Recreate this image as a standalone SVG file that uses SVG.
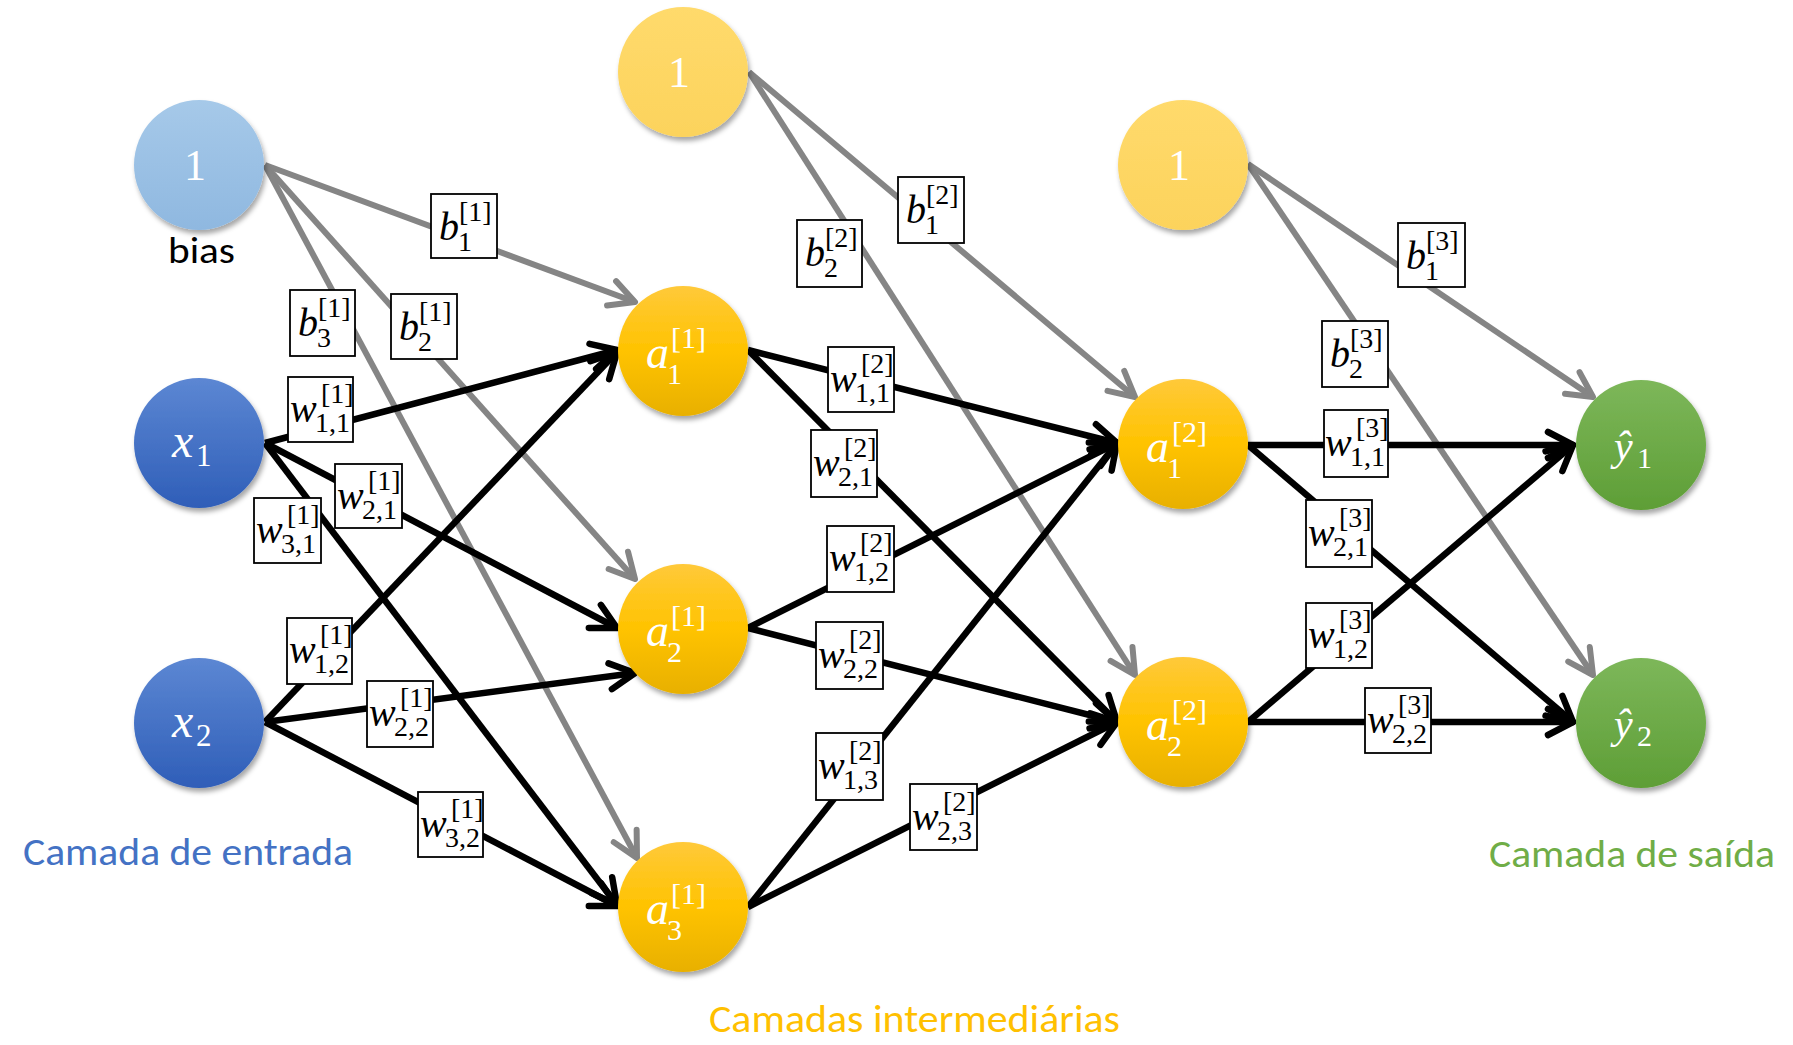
<svg xmlns="http://www.w3.org/2000/svg" width="1793" height="1045" viewBox="0 0 1793 1045">
  <style>
    .wire-k { stroke: #000; stroke-width: 6.5; fill: none; marker-end: url(#arrowK); }
    .wire-g { stroke: #858585; stroke-width: 6; fill: none; marker-end: url(#arrowG); }
    .box { fill: #fff; stroke: #000; stroke-width: 1.8; }
    .lbl { font-family: "Liberation Serif", "DejaVu Serif", serif; fill: #000; }
    .v { font-style: italic; font-size: 40px; }
    .s { font-size: 28px; }
    .nl { font-family: "Liberation Serif", "DejaVu Serif", serif; fill: #fff; }
    .nv { font-style: italic; }
    .cap { font-family: Carlito, Lato, "Liberation Sans", sans-serif; }
  </style>
  <defs>
    <marker id="arrowK" markerUnits="userSpaceOnUse" orient="auto" overflow="visible" markerWidth="1" markerHeight="1" refX="0" refY="0">
      <path d="M-25,-13 L0,0 L-25,13" fill="none" stroke="#000" stroke-width="6.5" stroke-linecap="round" stroke-linejoin="round"/>
    </marker>
    <marker id="arrowG" markerUnits="userSpaceOnUse" orient="auto" overflow="visible" markerWidth="1" markerHeight="1" refX="0" refY="0">
      <path d="M-25,-13 L0,0 L-25,13" fill="none" stroke="#858585" stroke-width="6" stroke-linecap="round" stroke-linejoin="round"/>
    </marker>
    <linearGradient id="gBias" x1="0" y1="0" x2="0" y2="1">
      <stop offset="0" stop-color="#A6C9E9"/><stop offset="1" stop-color="#8FB8E0"/>
    </linearGradient>
    <linearGradient id="gX" x1="0" y1="0" x2="0" y2="1">
      <stop offset="0" stop-color="#5C87D3"/><stop offset="1" stop-color="#2F5EB8"/>
    </linearGradient>
    <linearGradient id="gOne" x1="0" y1="0" x2="0" y2="1">
      <stop offset="0" stop-color="#FFDA6C"/><stop offset="1" stop-color="#FCD35C"/>
    </linearGradient>
    <linearGradient id="gA" x1="0" y1="0" x2="0" y2="1">
      <stop offset="0" stop-color="#FFC93A"/><stop offset="0.5" stop-color="#FFC300"/><stop offset="1" stop-color="#E8B000"/>
    </linearGradient>
    <linearGradient id="gY" x1="0" y1="0" x2="0" y2="1">
      <stop offset="0" stop-color="#7DB75A"/><stop offset="1" stop-color="#5E9E36"/>
    </linearGradient>
    <filter id="shadow" x="-30%" y="-30%" width="160%" height="160%">
      <feDropShadow dx="2" dy="4" stdDeviation="2.5" flood-color="#000" flood-opacity="0.35"/>
    </filter>
  </defs>

  <!-- connectors -->
  <g id="connectors">
    <!-- bias weights (grey) -->
    <path class="wire-g" d="M265,165 L635,302"/>
    <path class="wire-g" d="M265,165 L635,579"/>
    <path class="wire-g" d="M265,165 L637,858"/>
    <path class="wire-g" d="M749,72 L1135,397"/>
    <path class="wire-g" d="M749,72 L1135,675"/>
    <path class="wire-g" d="M1248,164 L1593,397"/>
    <path class="wire-g" d="M1248,164 L1593,675"/>
    <!-- input to first hidden layer -->
    <path class="wire-k" d="M265,443 L617,350"/>
    <path class="wire-k" d="M265,443 L617,628"/>
    <path class="wire-k" d="M265,443 L617,905"/>
    <path class="wire-k" d="M265,722 L617,352"/>
    <path class="wire-k" d="M265,722 L635,673"/>
    <path class="wire-k" d="M265,722 L617,906"/>
    <!-- first to second hidden layer -->
    <path class="wire-k" d="M748,350 L1117,443"/>
    <path class="wire-k" d="M748,350 L1117,722"/>
    <path class="wire-k" d="M748,628 L1117,443"/>
    <path class="wire-k" d="M748,628 L1117,722"/>
    <path class="wire-k" d="M748,907 L1117,443"/>
    <path class="wire-k" d="M748,907 L1117,722"/>
    <!-- second hidden layer to output -->
    <path class="wire-k" d="M1248,445 L1573,445"/>
    <path class="wire-k" d="M1248,445 L1573,722"/>
    <path class="wire-k" d="M1248,722 L1573,445"/>
    <path class="wire-k" d="M1248,722 L1573,722"/>
  </g>

  <!-- weight and bias labels -->
  <g id="labels">
    <g id="lb-b11"><rect class="box" x="431" y="194" width="66" height="64"/><text class="lbl"><tspan class="v" x="439" y="240">b</tspan><tspan class="s" x="459" y="221">[1]</tspan><tspan class="s" x="458" y="251">1</tspan></text></g>
    <g id="lb-b21"><rect class="box" x="391" y="294" width="66" height="65"/><text class="lbl"><tspan class="v" x="399" y="340">b</tspan><tspan class="s" x="419" y="321">[1]</tspan><tspan class="s" x="418" y="351">2</tspan></text></g>
    <g id="lb-b31"><rect class="box" x="290" y="290" width="65" height="66"/><text class="lbl"><tspan class="v" x="298" y="336">b</tspan><tspan class="s" x="318" y="317">[1]</tspan><tspan class="s" x="317" y="347">3</tspan></text></g>
    <g id="lb-w111"><rect class="box" x="288" y="377" width="65" height="65"/><text class="lbl"><tspan class="v" x="290" y="422">w</tspan><tspan class="s" x="321" y="403">[1]</tspan><tspan class="s" x="315" y="432">1,1</tspan></text></g>
    <g id="lb-w211"><rect class="box" x="335" y="464" width="67" height="64"/><text class="lbl"><tspan class="v" x="337" y="509">w</tspan><tspan class="s" x="368" y="490">[1]</tspan><tspan class="s" x="362" y="519">2,1</tspan></text></g>
    <g id="lb-w311"><rect class="box" x="254" y="498" width="67" height="65"/><text class="lbl"><tspan class="v" x="256" y="543">w</tspan><tspan class="s" x="287" y="524">[1]</tspan><tspan class="s" x="281" y="553">3,1</tspan></text></g>
    <g id="lb-w121"><rect class="box" x="287" y="618" width="65" height="66"/><text class="lbl"><tspan class="v" x="289" y="663">w</tspan><tspan class="s" x="320" y="644">[1]</tspan><tspan class="s" x="314" y="673">1,2</tspan></text></g>
    <g id="lb-w221"><rect class="box" x="367" y="681" width="66" height="66"/><text class="lbl"><tspan class="v" x="369" y="726">w</tspan><tspan class="s" x="400" y="707">[1]</tspan><tspan class="s" x="394" y="736">2,2</tspan></text></g>
    <g id="lb-w321"><rect class="box" x="418" y="792" width="65" height="65"/><text class="lbl"><tspan class="v" x="420" y="837">w</tspan><tspan class="s" x="451" y="818">[1]</tspan><tspan class="s" x="445" y="847">3,2</tspan></text></g>

    <g id="lb-b12"><rect class="box" x="898" y="177" width="66" height="66"/><text class="lbl"><tspan class="v" x="906" y="223">b</tspan><tspan class="s" x="926" y="204">[2]</tspan><tspan class="s" x="925" y="234">1</tspan></text></g>
    <g id="lb-b22"><rect class="box" x="797" y="220" width="65" height="67"/><text class="lbl"><tspan class="v" x="805" y="266">b</tspan><tspan class="s" x="825" y="247">[2]</tspan><tspan class="s" x="824" y="277">2</tspan></text></g>
    <g id="lb-w112"><rect class="box" x="828" y="347" width="66" height="65"/><text class="lbl"><tspan class="v" x="830" y="392">w</tspan><tspan class="s" x="861" y="373">[2]</tspan><tspan class="s" x="855" y="402">1,1</tspan></text></g>
    <g id="lb-w212"><rect class="box" x="811" y="430" width="66" height="67"/><text class="lbl"><tspan class="v" x="813" y="476">w</tspan><tspan class="s" x="844" y="457">[2]</tspan><tspan class="s" x="838" y="486">2,1</tspan></text></g>
    <g id="lb-w122"><rect class="box" x="827" y="526" width="67" height="66"/><text class="lbl"><tspan class="v" x="829" y="571">w</tspan><tspan class="s" x="860" y="552">[2]</tspan><tspan class="s" x="854" y="581">1,2</tspan></text></g>
    <g id="lb-w222"><rect class="box" x="816" y="622" width="67" height="67"/><text class="lbl"><tspan class="v" x="818" y="668">w</tspan><tspan class="s" x="849" y="649">[2]</tspan><tspan class="s" x="843" y="678">2,2</tspan></text></g>
    <g id="lb-w132"><rect class="box" x="816" y="733" width="67" height="67"/><text class="lbl"><tspan class="v" x="818" y="779">w</tspan><tspan class="s" x="849" y="760">[2]</tspan><tspan class="s" x="843" y="789">1,3</tspan></text></g>
    <g id="lb-w232"><rect class="box" x="910" y="784" width="67" height="66"/><text class="lbl"><tspan class="v" x="912" y="830">w</tspan><tspan class="s" x="943" y="811">[2]</tspan><tspan class="s" x="937" y="840">2,3</tspan></text></g>

    <g id="lb-b13"><rect class="box" x="1398" y="223" width="67" height="64"/><text class="lbl"><tspan class="v" x="1406" y="269">b</tspan><tspan class="s" x="1426" y="250">[3]</tspan><tspan class="s" x="1425" y="280">1</tspan></text></g>
    <g id="lb-b23"><rect class="box" x="1322" y="321" width="66" height="66"/><text class="lbl"><tspan class="v" x="1330" y="367">b</tspan><tspan class="s" x="1350" y="348">[3]</tspan><tspan class="s" x="1349" y="378">2</tspan></text></g>
    <g id="lb-w113"><rect class="box" x="1324" y="410" width="64" height="67"/><text class="lbl"><tspan class="v" x="1325" y="456">w</tspan><tspan class="s" x="1356" y="437">[3]</tspan><tspan class="s" x="1350" y="466">1,1</tspan></text></g>
    <g id="lb-w213"><rect class="box" x="1306" y="500" width="66" height="67"/><text class="lbl"><tspan class="v" x="1308" y="546">w</tspan><tspan class="s" x="1339" y="527">[3]</tspan><tspan class="s" x="1333" y="556">2,1</tspan></text></g>
    <g id="lb-w123"><rect class="box" x="1306" y="603" width="66" height="65"/><text class="lbl"><tspan class="v" x="1308" y="648">w</tspan><tspan class="s" x="1339" y="629">[3]</tspan><tspan class="s" x="1333" y="658">1,2</tspan></text></g>
    <g id="lb-w223"><rect class="box" x="1365" y="688" width="66" height="65"/><text class="lbl"><tspan class="v" x="1367" y="733">w</tspan><tspan class="s" x="1398" y="714">[3]</tspan><tspan class="s" x="1392" y="743">2,2</tspan></text></g>
  </g>

  <!-- input layer -->
  <g id="node-bias1">
    <circle cx="199" cy="165" r="65" fill="url(#gBias)" filter="url(#shadow)"/>
    <text class="nl" x="195" y="180" font-size="44" text-anchor="middle">1</text>
  </g>
  <g id="node-x1">
    <circle cx="199" cy="443" r="65" fill="url(#gX)" filter="url(#shadow)"/>
    <text class="nl"><tspan class="nv" x="172" y="457" font-size="48">x</tspan><tspan x="196" y="466" font-size="31">1</tspan></text>
  </g>
  <g id="node-x2">
    <circle cx="199" cy="723" r="65" fill="url(#gX)" filter="url(#shadow)"/>
    <text class="nl"><tspan class="nv" x="172" y="737" font-size="48">x</tspan><tspan x="196" y="746" font-size="31">2</tspan></text>
  </g>

  <!-- first hidden layer -->
  <g id="node-bias2">
    <circle cx="683" cy="72" r="65" fill="url(#gOne)" filter="url(#shadow)"/>
    <text class="nl" x="679" y="87" font-size="44" text-anchor="middle">1</text>
  </g>
  <g id="node-a11">
    <circle cx="683" cy="351" r="65" fill="url(#gA)" filter="url(#shadow)"/>
    <text class="nl"><tspan class="nv" x="646" y="368" font-size="46">a</tspan><tspan x="671" y="348" font-size="30">[1]</tspan><tspan x="667" y="384" font-size="30">1</tspan></text>
  </g>
  <g id="node-a21">
    <circle cx="683" cy="629" r="65" fill="url(#gA)" filter="url(#shadow)"/>
    <text class="nl"><tspan class="nv" x="646" y="646" font-size="46">a</tspan><tspan x="671" y="626" font-size="30">[1]</tspan><tspan x="667" y="662" font-size="30">2</tspan></text>
  </g>
  <g id="node-a31">
    <circle cx="683" cy="907" r="65" fill="url(#gA)" filter="url(#shadow)"/>
    <text class="nl"><tspan class="nv" x="646" y="924" font-size="46">a</tspan><tspan x="671" y="904" font-size="30">[1]</tspan><tspan x="667" y="940" font-size="30">3</tspan></text>
  </g>

  <!-- second hidden layer -->
  <g id="node-bias3">
    <circle cx="1183" cy="165" r="65" fill="url(#gOne)" filter="url(#shadow)"/>
    <text class="nl" x="1179" y="180" font-size="44" text-anchor="middle">1</text>
  </g>
  <g id="node-a12">
    <circle cx="1183" cy="444" r="65" fill="url(#gA)" filter="url(#shadow)"/>
    <text class="nl"><tspan class="nv" x="1146" y="462" font-size="46">a</tspan><tspan x="1172" y="442" font-size="30">[2]</tspan><tspan x="1167" y="478" font-size="30">1</tspan></text>
  </g>
  <g id="node-a22">
    <circle cx="1183" cy="722" r="65" fill="url(#gA)" filter="url(#shadow)"/>
    <text class="nl"><tspan class="nv" x="1146" y="740" font-size="46">a</tspan><tspan x="1172" y="720" font-size="30">[2]</tspan><tspan x="1167" y="756" font-size="30">2</tspan></text>
  </g>

  <!-- output layer -->
  <g id="node-y1">
    <circle cx="1641" cy="445" r="65" fill="url(#gY)" filter="url(#shadow)"/>
    <text class="nl"><tspan class="nv" x="1614" y="460" font-size="42">ŷ</tspan><tspan x="1637" y="468" font-size="30">1</tspan></text>
  </g>
  <g id="node-y2">
    <circle cx="1641" cy="723" r="65" fill="url(#gY)" filter="url(#shadow)"/>
    <text class="nl"><tspan class="nv" x="1614" y="738" font-size="42">ŷ</tspan><tspan x="1637" y="746" font-size="30">2</tspan></text>
  </g>

  <!-- captions -->
  <g id="captions">
    <text class="cap" x="168" y="263" font-size="37" fill="#000" textLength="67" lengthAdjust="spacingAndGlyphs">bias</text>
    <text class="cap" x="23" y="865" font-size="39" fill="#4472C4" textLength="330" lengthAdjust="spacingAndGlyphs">Camada de entrada</text>
    <text class="cap" x="709" y="1032" font-size="39" fill="#FFC000" textLength="411" lengthAdjust="spacingAndGlyphs">Camadas intermediárias</text>
    <text class="cap" x="1489" y="867" font-size="39" fill="#70AD47" textLength="286" lengthAdjust="spacingAndGlyphs">Camada de saída</text>
  </g>
</svg>
